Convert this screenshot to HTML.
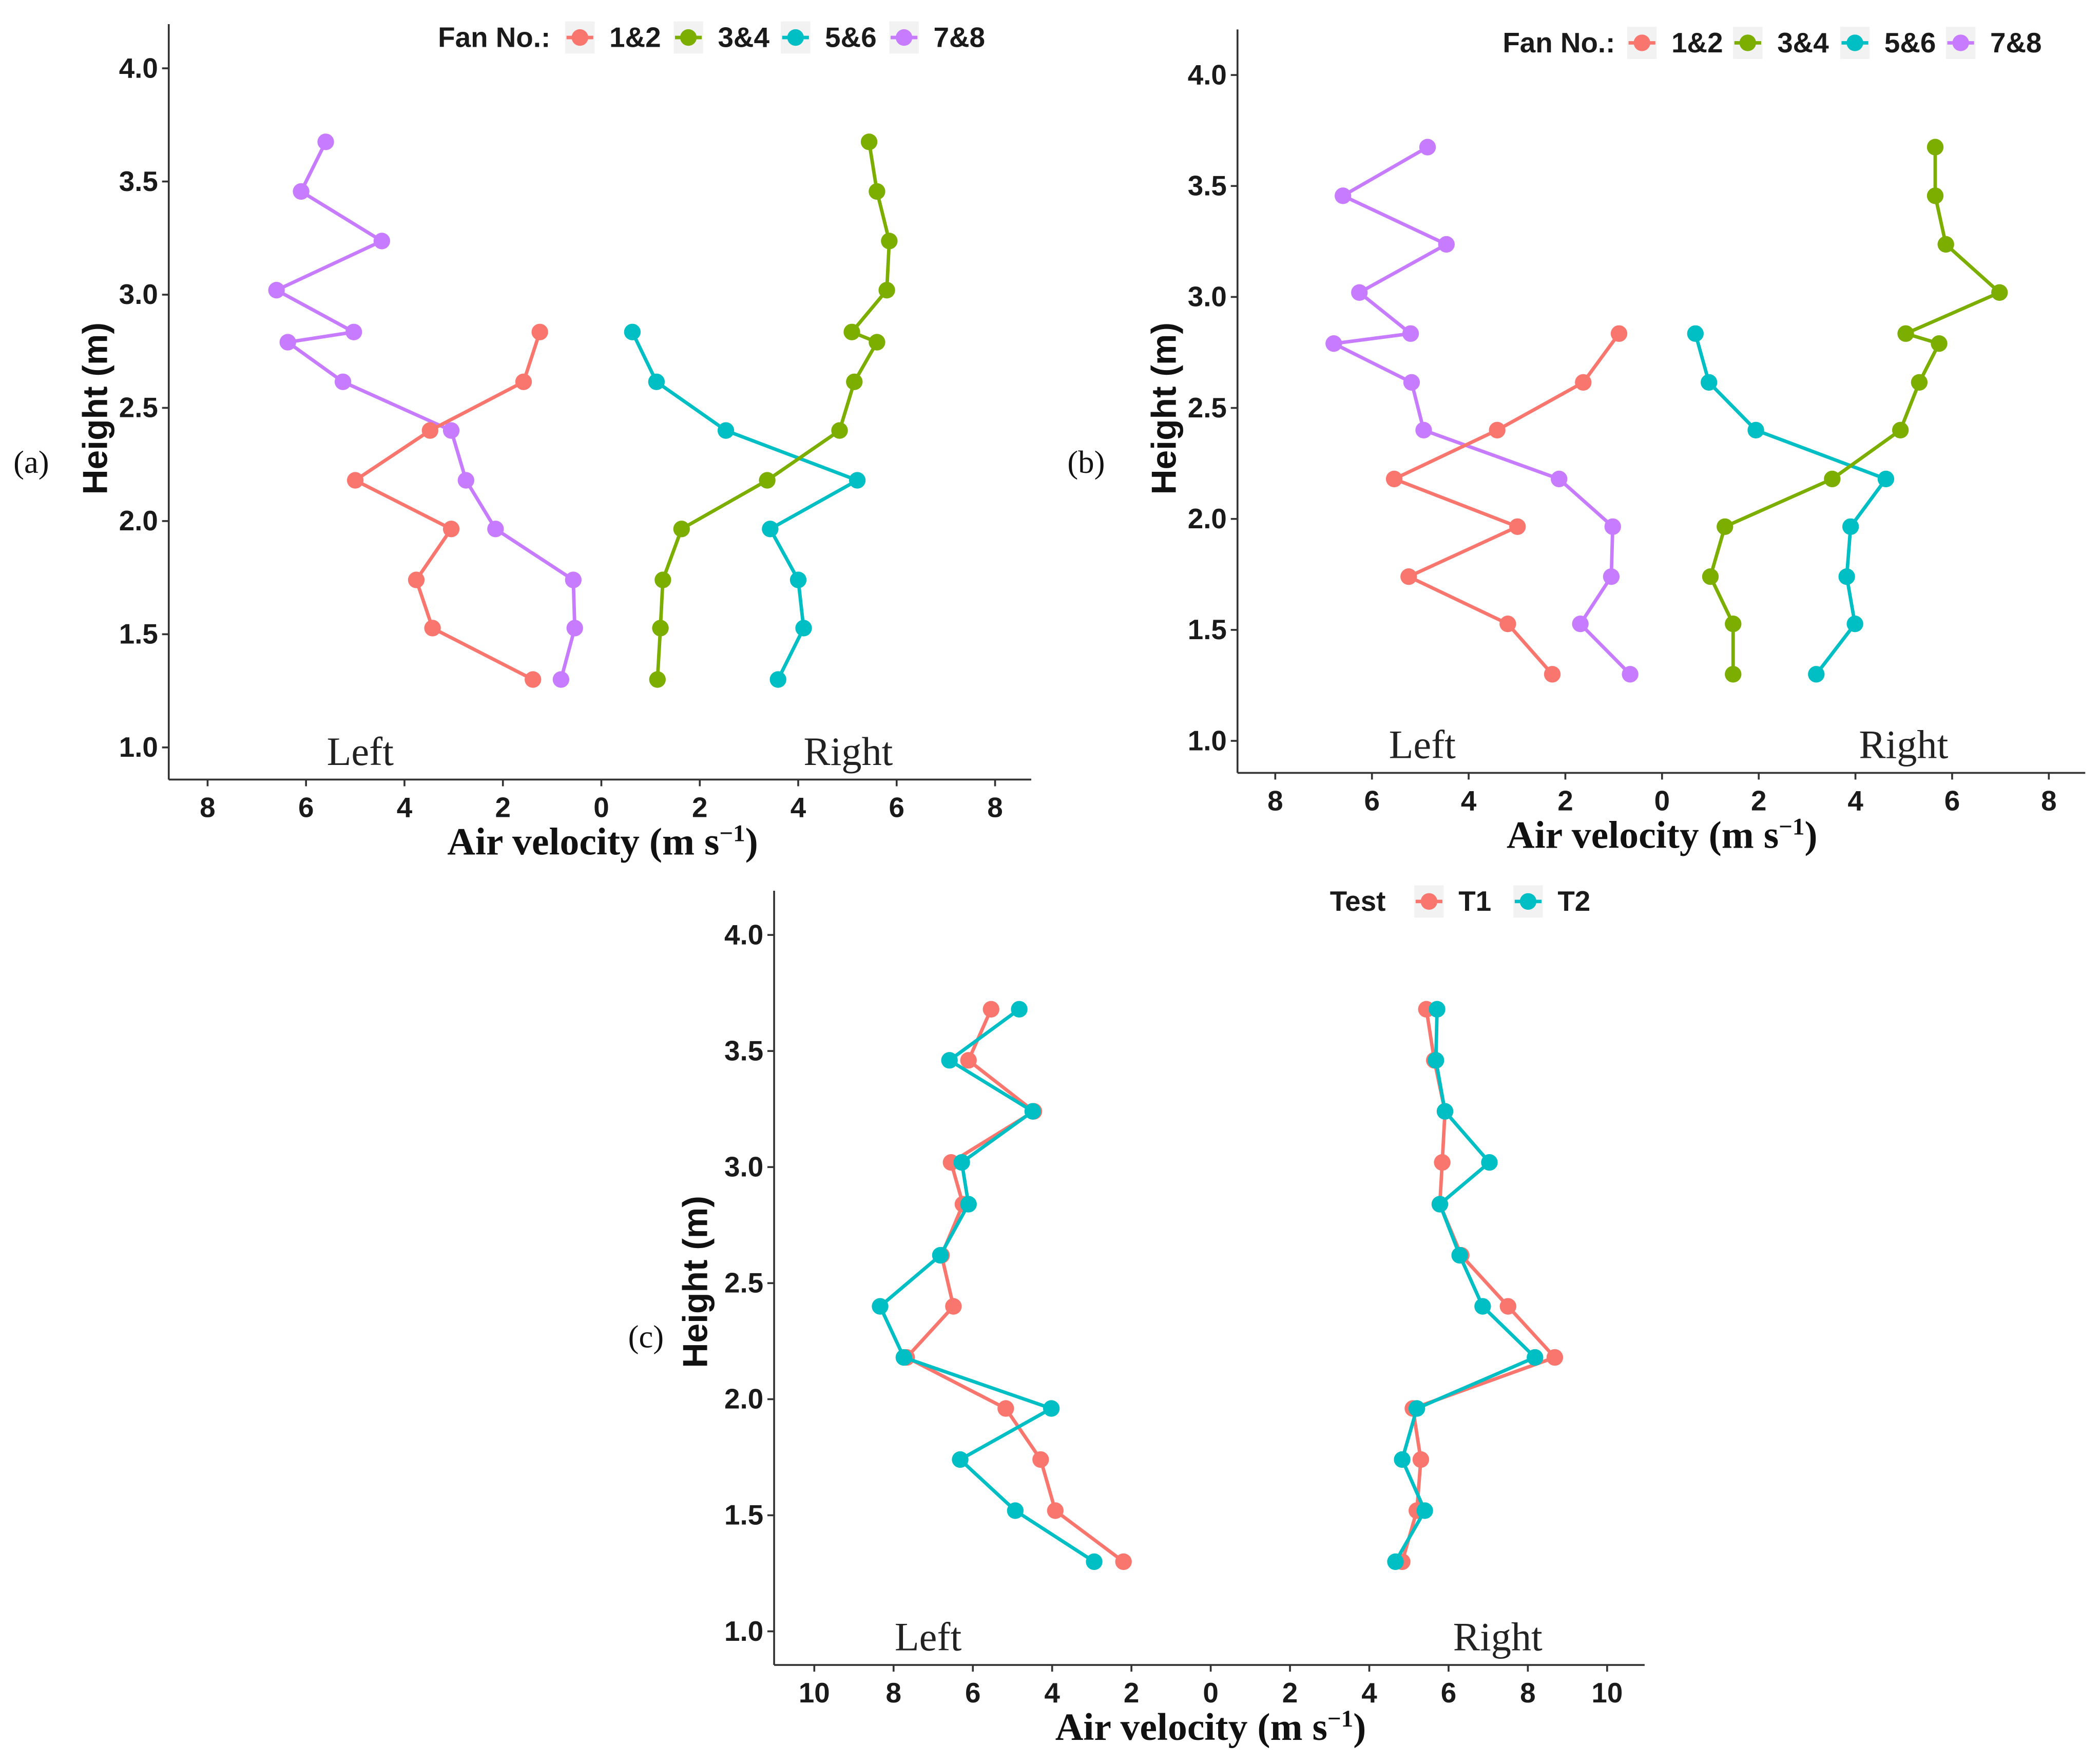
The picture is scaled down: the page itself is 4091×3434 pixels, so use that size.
<!DOCTYPE html>
<html><head><meta charset="utf-8"><style>
html,body{margin:0;padding:0;background:#fff;}
svg{display:block;}
.tk{font-family:"Liberation Sans Narrow","Liberation Sans",sans-serif;font-weight:bold;font-size:21px;fill:#1a1a1a;}
.ttl{font-family:"Liberation Serif",serif;font-weight:bold;font-size:29px;fill:#111;}
.yt{font-family:"Liberation Sans","Liberation Sans Narrow",sans-serif;font-weight:bold;font-size:26px;fill:#111;}
.lr{font-family:"Liberation Serif",serif;font-size:30px;fill:#222;}
.lab{font-family:"Liberation Serif",serif;font-size:24px;fill:#111;}
</style></head><body>
<svg id="fig" width="4091" height="3434" viewBox="0 0 1568 1316.2" xmlns="http://www.w3.org/2000/svg"></svg>
<script>
// Heights
const hA = [3.675,3.456,3.237,3.02,2.835,2.79,2.615,2.40,2.18,1.965,1.74,1.527,1.30];
const hAb = [2.835,2.615,2.40,2.18,1.965,1.74,1.527,1.30];
const hC = [3.68,3.46,3.24,3.02,2.84,2.62,2.40,2.18,1.96,1.74,1.52,1.30];
// Panel a (left side = negative direction)
const a78fix = [5.6,6.1,4.46,6.6,5.03,6.37,5.25,3.05,2.75,2.15,0.57,0.54,0.82];
const a12 = [1.25,1.58,3.48,5.0,3.05,3.76,3.43,1.39];
const a56 = [0.63,1.12,2.53,5.2,3.43,4.0,4.11,3.59];
const a34 = [5.44,5.6,5.85,5.8,5.09,5.6,5.14,4.84,3.37,1.63,1.25,1.2,1.14];
// Panel b
const b78 = [4.85,6.6,4.46,6.26,5.2,6.79,5.18,4.93,2.13,1.02,1.05,1.69,0.66];
const b12 = [0.89,1.63,3.41,5.54,2.99,5.24,3.19,2.27];
const b56 = [0.69,0.97,1.94,4.63,3.9,3.82,3.99,3.19];
const b34 = [5.65,5.65,5.87,6.98,5.04,5.73,5.32,4.93,3.52,1.3,1.0,1.47,1.47];
// Panel c
const cT1L = [5.54,6.11,4.46,6.55,6.25,6.79,6.49,7.67,5.17,4.29,3.92,2.2];
const cT2L = [4.83,6.59,4.49,6.28,6.11,6.82,8.34,7.74,4.02,6.32,4.93,2.94];
const cT1R = [5.44,5.64,5.91,5.84,5.78,6.32,7.5,8.68,5.1,5.3,5.2,4.83];
const cT2R = [5.71,5.68,5.91,7.03,5.78,6.28,6.86,8.18,5.2,4.83,5.4,4.66];
const xTicksAB = [-8,-6,-4,-2,0,2,4,6,8];
const xTicksC = [-10,-8,-6,-4,-2,0,2,4,6,8,10];
const yTicks = [1.0,1.5,2.0,2.5,3.0,3.5,4.0];

const RED='#F8766D',GRN='#7CAE00',CYN='#00BFC4',PUR='#C77CFF';
const NS='http://www.w3.org/2000/svg';
const svg=document.getElementById('fig');
function mk(tag,attrs,parent,txt){const e=document.createElementNS(NS,tag);for(const k in attrs)e.setAttribute(k,attrs[k]);if(txt!==undefined)e.textContent=txt;(parent||svg).appendChild(e);return e;}

function panel(p){
  const g=mk('g',{});
  
  
  const X=v=>p.x0+v*p.ux, Y=h=>p.y4+(4-h)*p.uy;
  const ax=mk('line',{x1:p.ax,y1:p.top,x2:p.ax,y2:p.ay,stroke:'#333','stroke-width':1.4},g);
  
  
  const bx=mk('line',{x1:p.ax,y1:p.ay,x2:p.right,y2:p.ay,stroke:'#333','stroke-width':1.4},g);
  
  
  yTicks.forEach(t=>{
    mk('line',{x1:p.ax-5,y1:Y(t),x2:p.ax,y2:Y(t),stroke:'#333','stroke-width':1.4},g);
    const tx=mk('text',{x:p.ax-8,y:Y(t)+7,'text-anchor':'end',class:'tk'},g,t.toFixed(1));
    
    
  });
  p.xt.forEach(t=>{
    mk('line',{x1:X(t),y1:p.ay,x2:X(t),y2:p.ay+5,stroke:'#333','stroke-width':1.4},g);
    const tx=mk('text',{x:X(t),y:p.ay+28,'text-anchor':'middle',class:'tk'},g,String(Math.abs(t)));
    
    
  });
  const xt=mk('text',{x:p.xtx,y:p.ay+56,'text-anchor':'middle',class:'ttl'},g);
  
  
  xt.innerHTML='Air velocity (m s<tspan dy="-10" font-size="18">−1</tspan><tspan dy="10">)</tspan>';
  const yt=mk('text',{x:0,y:0,'text-anchor':'middle',class:'yt',transform:`translate(${p.ytx},${p.yty}) rotate(-90)`},g,'Height (m)');
  
  
  const l=mk('text',{x:p.lx,y:p.ay-11,class:'lr'},g,'Left');
  
  
  const r=mk('text',{x:p.rx,y:p.ay-11,class:'lr'},g,'Right');
  
  
  const pl=mk('text',{x:p.plx,y:p.ply,class:'lab'},g,p.plab);
  
  
  p.series.forEach(s=>{
    const sg=mk('g',{},g);
    
    
    const sgn=s.side==='L'?-1:1;
    const pts=s.v.map((v,i)=>[X(sgn*v),Y(s.h[i])]);
    const ln=mk('polyline',{points:pts.map(q=>q.join(',')).join(' '),fill:'none',stroke:s.c,'stroke-width':2.6,'stroke-linejoin':'round'},sg);
    
    
    pts.forEach(q=>{
      const c=mk('circle',{cx:q[0],cy:q[1],r:6.2,fill:s.c},sg);
      
      
    });
  });
  const lg=mk('g',{},g);
  
  
  const lt=mk('text',{x:p.legx,y:p.legy+7,class:'tk'},lg,p.legTitle);
  
  
  p.leg.forEach(e=>{
    const eg=mk('g',{},lg);
    
    
    mk('rect',{x:e.x-11,y:p.legy-12,width:22,height:24,fill:'#f2f2f2'},eg);
    mk('line',{x1:e.x-10,y1:p.legy,x2:e.x+10,y2:p.legy,stroke:e.c,'stroke-width':2.6},eg);
    mk('circle',{cx:e.x,cy:p.legy,r:6.2,fill:e.c},eg);
    mk('text',{x:e.x+22,y:p.legy+7,class:'tk'},eg,e.t);
  });
}

panel({name:'panel-a',plab:'(a)',plx:10,ply:353,x0:449,ux:36.75,y4:51,uy:169,ax:126,ay:582,top:18,right:770,xt:xTicksAB,xtx:450,ytx:80,yty:305,lx:244,rx:600,
  legTitle:'Fan No.:',legx:327,legy:28,leg:[{x:433,c:RED,t:'1&2'},{x:514,c:GRN,t:'3&4'},{x:594,c:CYN,t:'5&6'},{x:675,c:PUR,t:'7&8'}],
  series:[{id:'7-8',side:'L',v:a78fix,h:hA,c:PUR},{id:'1-2',side:'L',v:a12,h:hAb,c:RED},{id:'5-6',side:'R',v:a56,h:hAb,c:CYN},{id:'3-4',side:'R',v:a34,h:hA,c:GRN}]});
panel({name:'panel-b',plab:'(b)',plx:797,ply:353,x0:1241,ux:36.1,y4:56,uy:165.7,ax:924,ay:577,top:22,right:1557,xt:xTicksAB,xtx:1241,ytx:878,yty:305,lx:1037,rx:1388,
  legTitle:'Fan No.:',legx:1122,legy:32,leg:[{x:1226,c:RED,t:'1&2'},{x:1305,c:GRN,t:'3&4'},{x:1385,c:CYN,t:'5&6'},{x:1464,c:PUR,t:'7&8'}],
  series:[{id:'7-8',side:'L',v:b78,h:hA,c:PUR},{id:'1-2',side:'L',v:b12,h:hAb,c:RED},{id:'5-6',side:'R',v:b56,h:hAb,c:CYN},{id:'3-4',side:'R',v:b34,h:hA,c:GRN}]});
panel({name:'panel-c',plab:'(c)',plx:469,ply:1006,x0:904,ux:29.6,y4:698,uy:173.3,ax:578,ay:1243,top:665,right:1228,xt:xTicksC,xtx:904,ytx:528,yty:957,lx:668,rx:1085,
  legTitle:'Test',legx:993,legy:673,leg:[{x:1067,c:RED,t:'T1'},{x:1141,c:CYN,t:'T2'}],
  series:[{id:'t1-left',side:'L',v:cT1L,h:hC,c:RED},{id:'t2-left',side:'L',v:cT2L,h:hC,c:CYN},{id:'t1-right',side:'R',v:cT1R,h:hC,c:RED},{id:'t2-right',side:'R',v:cT2R,h:hC,c:CYN}]});
</script>
</body></html>
